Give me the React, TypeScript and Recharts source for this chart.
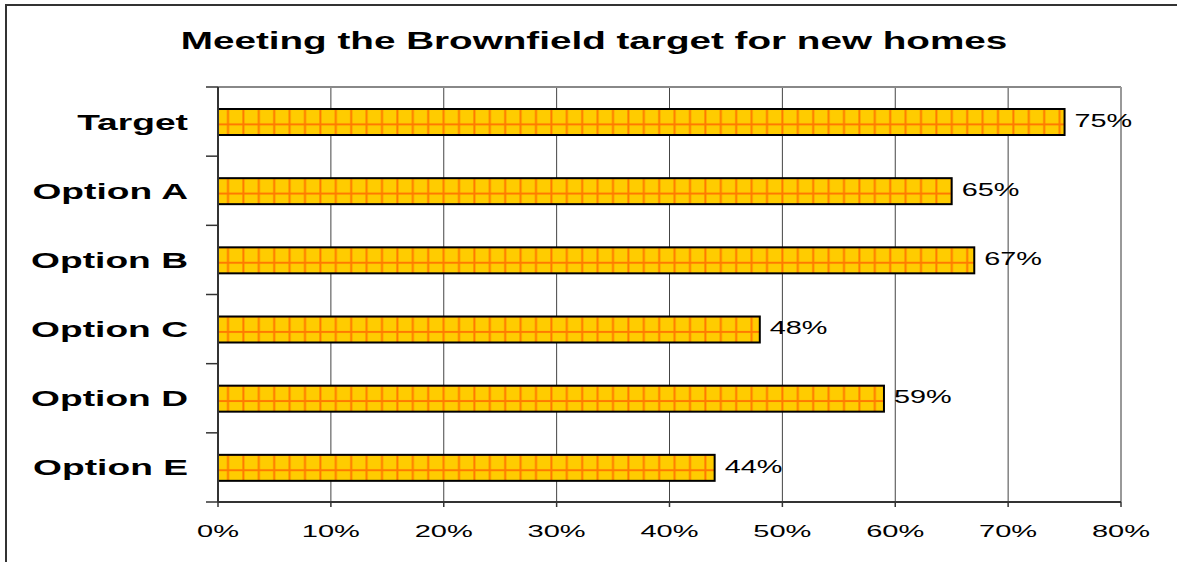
import React from 'react';
import { BarChart, Bar, XAxis, YAxis, CartesianGrid, LabelList, ReferenceLine } from 'recharts';

const categories = ['Target', 'Option A', 'Option B', 'Option C', 'Option D', 'Option E'];
const values = [75, 65, 67, 48, 59, 44];
const xTicks = [0, 10, 20, 30, 40, 50, 60, 70, 80];
const title = 'Meeting the Brownfield target for new homes';

const data = categories.map((name, i) => ({ name, value: values[i] }));

const FONT = '"Liberation Sans", Arial, sans-serif';
const CELL = 15.4;

const PatternBar = (props: any) => {
  const { x, y, width, height, index } = props;
  if (width == null || height == null) return null;
  const id = `grid-pat-${index}`;
  return (
    <g>
      <defs>
        <pattern id={id} patternUnits="userSpaceOnUse" x={x} y={y} width={CELL} height={CELL}>
          <rect x={0} y={0} width={CELL} height={CELL} fill="#FFCC00" />
          <line x1={10} y1={0} x2={10} y2={CELL} stroke="#FF7A00" strokeWidth={2} />
          <line x1={0} y1={0} x2={CELL} y2={0} stroke="#FF7A00" strokeWidth={2} />
          <line x1={0} y1={CELL} x2={CELL} y2={CELL} stroke="#FF7A00" strokeWidth={2} />
        </pattern>
      </defs>
      <rect x={x} y={y} width={width} height={height} fill={`url(#${id})`} stroke="#000" strokeWidth={2} />
    </g>
  );
};

const YTick = (props: any) => {
  const { x, y, payload, index, visibleTicksCount } = props;
  const half = payload && payload.offset ? payload.offset : 34.6;
  const ax = x;
  return (
    <g>
      <line x1={ax - 12} y1={y - half} x2={ax} y2={y - half} stroke="#333" strokeWidth={1.5} />
      {index === (visibleTicksCount ?? 6) - 1 && (
        <line x1={ax - 12} y1={y + half} x2={ax} y2={y + half} stroke="#333" strokeWidth={1.5} />
      )}
      <g transform={`translate(${ax - 30},${y + 8}) scale(1.66,1)`}>
        <text x={0} y={0} textAnchor="end" fontFamily={FONT} fontWeight="bold" fontSize={22.4} fill="#000">
          {payload.value}
        </text>
      </g>
    </g>
  );
};

const XTick = (props: any) => {
  const { x, y, payload } = props;
  return (
    <g transform={`translate(${x},${y + 30}) scale(1.69,1)`}>
      <text x={0} y={0} textAnchor="middle" fontFamily={FONT} fontSize={17.2} fill="#000">
        {`${payload.value}%`}
      </text>
    </g>
  );
};

const ValueLabel = (props: any) => {
  const { x, y, width, height, value } = props;
  const tx = Number(x) + Number(width) + 10;
  const ty = Number(y) + Number(height) / 2 + 4.7;
  return (
    <g transform={`translate(${tx},${ty}) scale(1.55,1)`}>
      <text x={0} y={0} textAnchor="start" fontFamily={FONT} fontSize={18.6} fill="#000">
        {`${value}%`}
      </text>
    </g>
  );
};

export default function App() {
  return (
    <div style={{ position: 'fixed', left: 0, top: 0, width: 1177, height: 562, background: '#fff', overflow: 'hidden' }}>
      <style>{'html,body{margin:0;padding:0;overflow:hidden;background:#fff;}'}</style>
      <div
        style={{
          position: 'absolute',
          left: 5,
          top: 4,
          width: 1172,
          height: 558,
          borderLeft: '2px solid #333',
          borderTop: '2px solid #333',
          boxSizing: 'border-box',
        }}
      />
      <div
        style={{
          position: 'absolute',
          left: 0,
          width: 1188,
          top: 27,
          textAlign: 'center',
          fontFamily: FONT,
          fontWeight: 'bold',
          fontSize: 23,
          lineHeight: '28px',
          color: '#000',
          transform: 'scaleX(1.68)',
          transformOrigin: '594px 0',
          whiteSpace: 'nowrap',
        }}
      >
        {title}
      </div>
      <div style={{ position: 'absolute', left: 0, top: 0 }}>
        <BarChart
          width={1177}
          height={562}
          data={data}
          layout="vertical"
          margin={{ top: 87, right: 56, left: 0, bottom: 0 }}
          barSize={26}
        >
          <CartesianGrid horizontal={false} vertical={true} stroke="#444" strokeWidth={1} />
          <CartesianGrid
            vertical={false}
            horizontal={true}
            horizontalCoordinatesGenerator={({ offset }: any) => [offset.top]}
            stroke="#888"
            strokeWidth={2}
          />
          <ReferenceLine x={80} stroke="#999" strokeWidth={2} />
          <XAxis
            type="number"
            domain={[0, 80]}
            ticks={xTicks}
            interval={0}
            height={60}
            tickSize={5}
            tickMargin={0}
            tickLine={{ stroke: '#333', strokeWidth: 1.5 }}
            axisLine={{ stroke: '#333', strokeWidth: 2 }}
            tick={<XTick />}
          />
          <YAxis
            type="category"
            dataKey="name"
            width={218}
            tickSize={0}
            tickMargin={0}
            tickLine={false}
            axisLine={{ stroke: '#333', strokeWidth: 2 }}
            tick={<YTick />}
            interval={0}
          />
          <Bar dataKey="value" shape={<PatternBar />} isAnimationActive={false}>
            <LabelList dataKey="value" content={<ValueLabel />} />
          </Bar>
        </BarChart>
      </div>
    </div>
  );
}
